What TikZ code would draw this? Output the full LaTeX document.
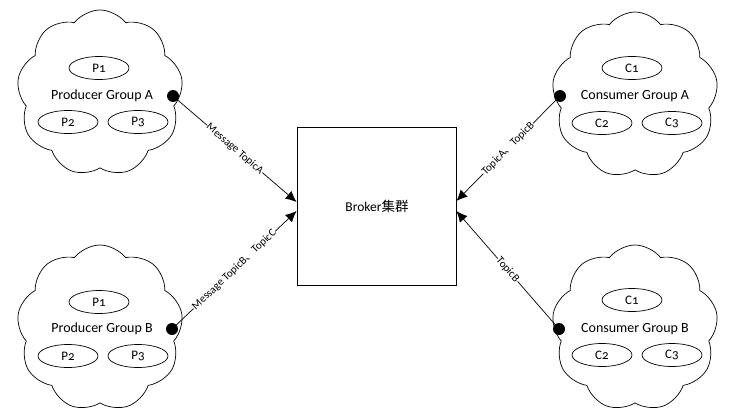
\documentclass[tikz,border=0pt]{standalone}
\usepackage{fontspec}
\setmainfont{Carlito}[Numbers=OldStyle]
\newfontfamily\cjk{Noto Sans CJK SC}
\usetikzlibrary{shapes.symbols,shapes.geometric,arrows.meta}
\begin{document}
\begin{tikzpicture}[x=1pt,y=-1pt,
  grp/.style={cloud, cloud puffs=9, cloud puff arc=105, aspect=1, draw, line width=0.7pt, minimum width=166pt, minimum height=166pt, inner sep=0pt, shape border rotate=10},
  member/.style={ellipse, draw, line width=0.7pt, minimum width=60pt, minimum height=23pt, inner sep=0pt, font=\fontsize{13}{15}\selectfont},
  grplabel/.style={font=\fontsize{14}{16}\selectfont, inner sep=0pt},
  dot/.style={circle, fill=black, inner sep=0pt, minimum size=12pt},
  link/.style={line width=0.7pt, -{Latex[length=11pt,width=10pt]}},
  lbl/.style={sloped, fill=white, inner sep=0.5pt, font=\fontsize{11}{12}\selectfont},
  brokerbox/.style={draw, line width=0.8pt, minimum width=159pt, minimum height=158pt, inner sep=0pt}
]
\useasboundingbox (0,0) rectangle (733,420);
% Broker
\node[brokerbox] (broker) at (376.5,206) {};
\node[font=\fontsize{13.5}{15}\selectfont] (btext) at (377,206) {Broker{\cjk 集群}};
% Producer Group A
\node[grp] (pa) at (100,93) {};
\node[member] (pa1) at (99,68) {P1};
\node[grplabel] (pat) at (102,96) {Producer Group A};
\node[member] (pa2) at (68,122) {P2};
\node[member] (pa3) at (138,122) {P3};
\node[dot] (pad) at (173,96) {};
% Producer Group B
\node[grp] (pb) at (100,328) {};
\node[member] (pb1) at (99,302) {P1};
\node[grplabel] (pbt) at (102,329) {Producer Group B};
\node[member] (pb2) at (68,356) {P2};
\node[member] (pb3) at (138,356) {P3};
\node[dot] (pbd) at (172,329) {};
% Consumer Group A
\node[grp] (ca) at (635,95) {};
\node[member] (ca1) at (632,68) {C1};
\node[grplabel] (cat) at (635,96) {Consumer Group A};
\node[member] (ca2) at (602,123) {C2};
\node[member] (ca3) at (672,123) {C3};
\node[dot] (cad) at (560,96) {};
% Consumer Group B
\node[grp] (cb) at (635,328) {};
\node[member] (cb1) at (632,300) {C1};
\node[grplabel] (cbt) at (635,329) {Consumer Group B};
\node[member] (cb2) at (602,355) {C2};
\node[member] (cb3) at (672,355) {C3};
\node[dot] (cbd) at (559,329) {};
% Links
\draw[link] (pad.center) -- node[lbl] {Message TopicA} ([yshift=4pt]broker.west);
\draw[link] (pbd.center) -- node[lbl] {Message TopicB{\cjk 、}TopicC} ([yshift=-5pt]broker.west);
\draw[link] (cad.center) -- node[lbl] {TopicA{\cjk 、}TopicB} ([yshift=5pt]broker.east);
\draw[link] (cbd.center) -- node[lbl] {TopicB} ([yshift=-5pt]broker.east);
\end{tikzpicture}
\end{document}
